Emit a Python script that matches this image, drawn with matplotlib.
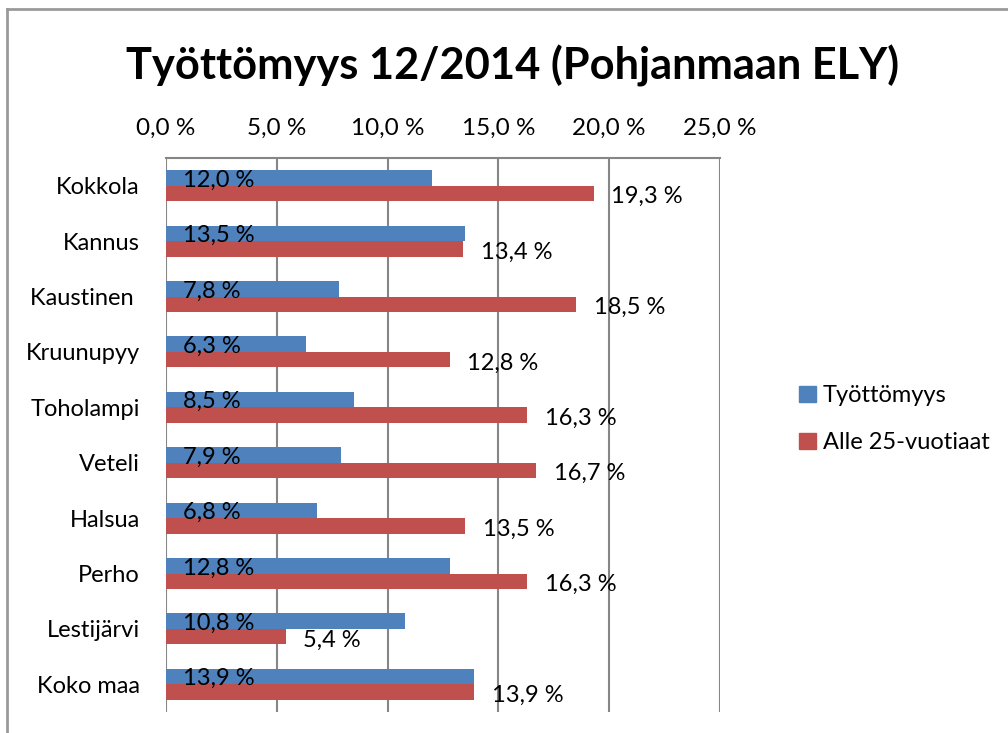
import matplotlib.pyplot as plt
import numpy as np
from matplotlib.lines import Line2D
from matplotlib.patches import Patch

# data
kunnat = ['Kokkola', 'Kannus', 'Kaustinen ', 'Kruunupyy', 'Toholampi', 'Veteli',
          'Halsua', 'Perho', 'Lestijärvi', 'Koko maa']
tyottomyys = [12.0, 13.5, 7.8, 6.3, 8.5, 7.9, 6.8, 12.8, 10.8, 13.9]
alle25 = [19.3, 13.4, 18.5, 12.8, 16.3, 16.7, 13.5, 16.3, 5.4, 13.9]
x_ticks = [0, 5, 10, 15, 20, 25]

blue = '#4F81BD'
red = '#C0504D'
grid_c = '#868686'

plt.rcParams['font.family'] = ['Lato', 'DejaVu Sans']

fig = plt.figure(figsize=(10.08, 7.33), dpi=100)
ax = fig.add_axes([0.1647, 0.0286, 0.5496, 0.7558])

n = len(kunnat)
y = np.arange(n)
h = 0.28
ax.barh(y - h/2, tyottomyys, height=h, color=blue, label='Työttömyys', zorder=3)
ax.barh(y + h/2, alle25, height=h, color=red, label='Alle 25-vuotiaat', zorder=3)

def fmt(v):
    return ('%.1f %%' % v).replace('.', ',')

for i in range(n):
    ax.text(0.75, y[i] - h/2 + 0.04, fmt(tyottomyys[i]), va='center', ha='left',
            fontsize=17, zorder=4)
    ax.text(alle25[i] + 0.8, y[i] + h/2 + 0.06, fmt(alle25[i]), va='center', ha='left',
            fontsize=17, zorder=4)

ax.set_xlim(0, 25)
ax.set_ylim(n - 0.5, -0.5)
ax.set_xticks(x_ticks)
ax.set_xticklabels([fmt(t) for t in x_ticks], fontsize=17.5)
ax.xaxis.tick_top()
ax.tick_params(axis='x', length=0, pad=14)
ax.set_yticks(y)
ax.set_yticklabels(kunnat, fontsize=17)
ax.tick_params(axis='y', length=0, pad=19)
ax.grid(axis='x', color=grid_c, linewidth=1.5, zorder=0)
for s in ['left', 'right', 'bottom']:
    ax.spines[s].set_visible(False)
ax.spines['top'].set_color(grid_c)
ax.spines['top'].set_linewidth(1.5)

fig.text(0.508, 0.91, 'Työttömyys 12/2014 (Pohjanmaan ELY)', ha='center', va='center',
         fontsize=31.2, fontweight='bold')

handles = [Patch(color=blue, label='Työttömyys'), Patch(color=red, label='Alle 25-vuotiaat')]
fig.legend(handles=handles, loc='center left', bbox_to_anchor=(0.772, 0.428), frameon=False,
           fontsize=17, handlelength=0.7, handleheight=0.7, handletextpad=0.3,
           labelspacing=1.1)

# chart border
fig.add_artist(Line2D([7/1008, 1], [1 - 9/733, 1 - 9/733], color='#9a9a9a', linewidth=2))
fig.add_artist(Line2D([7/1008, 7/1008], [0, 1 - 9/733], color='#9a9a9a', linewidth=2))

fig.savefig('out.png', dpi=100)
